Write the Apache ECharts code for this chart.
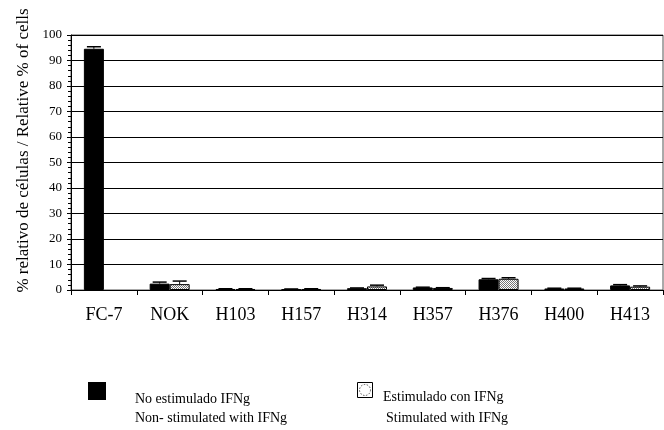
<!DOCTYPE html>
<html><head><meta charset="utf-8">
<script src="https://cdn.jsdelivr.net/npm/echarts@6/dist/echarts.min.js"></script>
<style>html,body{margin:0;padding:0;background:#fff}#c{width:664px;height:430px}</style>
</head><body><div id="c"></div>
<script>
const categories = ['FC-7','NOK','H103','H157','H314','H357','H376','H400','H413'];
const nonStim = [94.6, 2.5, 0.4, 0.3, 0.7, 1.0, 4.2, 0.6, 1.8];
const nonStimErr = [0.8, 0.6, 0.1, 0.1, 0.1, 0.1, 0.3, 0.1, 0.3];
const stim = [null, 2.3, 0.4, 0.4, 1.4, 0.8, 4.4, 0.6, 1.3];
const stimErr = [null, 1.2, 0.1, 0.1, 0.5, 0.1, 0.4, 0.1, 0.3];
const yTicks = [0,10,20,30,40,50,60,70,80,90,100];

const FONT = '"Liberation Serif","DejaVu Serif",serif';
const BARW = 20;

// dotted pattern
const pc = document.createElement('canvas');
pc.width = 4; pc.height = 4;
const pctx = pc.getContext('2d');
pctx.fillStyle = '#fff'; pctx.fillRect(0,0,4,4);
pctx.fillStyle = '#777';
pctx.fillRect(0,0,1,1); pctx.fillRect(2,0,1,1);
pctx.fillRect(1,1,1,1); pctx.fillRect(3,1,1,1);
pctx.fillRect(0,2,1,1); pctx.fillRect(2,2,1,1);
pctx.fillRect(1,3,1,1); pctx.fillRect(3,3,1,1);

function errSeries(vals, errs, offset) {
  return {
    type: 'custom',
    z: 5,
    data: vals.map((v,i)=> v==null ? [i, null, null] : [i, v, errs[i]]),
    renderItem: function(params, api) {
      const v = api.value(1), e = api.value(2);
      if (v == null || isNaN(v)) return;
      const p0 = api.coord([api.value(0), v]);
      const p1 = api.coord([api.value(0), v + e]);
      const x = p0[0] + offset;
      return {
        type: 'group',
        children: [
          {type:'line', shape:{x1:x, y1:p0[1], x2:x, y2:p1[1]}, style:{stroke:'#000', lineWidth:1}},
          {type:'line', shape:{x1:x-7, y1:p1[1], x2:x+7, y2:p1[1]}, style:{stroke:'#000', lineWidth:1.5}}
        ]
      };
    }
  };
}

const chart = echarts.init(document.getElementById('c'));
chart.setOption({
  animation: false,
  backgroundColor: '#fff',
  grid: {left: 71, right: 1, top: 35, bottom: 140, show: true, borderColor: '#555', borderWidth: 1},
  xAxis: {
    type: 'category',
    data: categories,
    axisLine: {lineStyle: {color: '#000', width: 1}},
    axisTick: {show: true, length: 5, alignWithLabel: false, lineStyle: {color: '#000'}},
    axisLabel: {fontFamily: FONT, fontSize: 18, color: '#000', margin: 16}
  },
  yAxis: {
    type: 'value',
    min: 0, max: 100, interval: 10,
    name: '% relativo de células / Relative % of cells',
    nameLocation: 'middle',
    nameGap: 36,
    nameTextStyle: {fontFamily: FONT, fontSize: 17, color: '#000', padding: [0, 0, 0, 24]},
    axisLine: {show: true, lineStyle: {color: '#000', width: 1}},
    axisTick: {show: true, length: 4, lineStyle: {color: '#000'}},
    minorTick: {show: true, splitNumber: 5, length: 3, lineStyle: {color: '#000'}},
    splitLine: {show: true, lineStyle: {color: '#000', width: 1}},
    axisLabel: {fontFamily: FONT, fontSize: 13, color: '#000', margin: 9,
      formatter: v => yTicks.includes(v) ? String(v) : ''}
  },
  series: [
    {type: 'bar', name: 'No estimulado IFNg', data: nonStim, barWidth: BARW, barGap: '0%',
      itemStyle: {color: '#000', borderColor: '#000', borderWidth: 1}},
    {type: 'bar', name: 'Estimulado con IFNg', data: stim, barWidth: BARW, barGap: '0%',
      itemStyle: {color: {image: pc, repeat: 'repeat'}, borderColor: '#000', borderWidth: 1}},
    errSeries(nonStim, nonStimErr, -BARW/2),
    errSeries(stim, stimErr, BARW/2)
  ],
  graphic: [
    {type: 'rect', left: 88, top: 382, shape: {width: 18, height: 18}, style: {fill: '#000'}},
    {type: 'text', x: 135, y: 399, style: {text: 'No estimulado IFNg', font: '14px ' + FONT, fill: '#000', verticalAlign: 'middle'}},
    {type: 'text', x: 135, y: 418, style: {text: 'Non- stimulated with IFNg', font: '14px ' + FONT, fill: '#000', verticalAlign: 'middle'}},
    {type: 'rect', shape: {x: 357.5, y: 382.5, width: 15, height: 15}, style: {fill: '#fff', stroke: '#000', lineWidth: 1}},
    {type: 'circle', shape: {cx: 365, cy: 390, r: 5.5}, style: {fill: '#fff', stroke: '#555', lineWidth: 1, lineDash: [1.5, 1.5]}},
    {type: 'text', x: 383, y: 397, style: {text: 'Estimulado con IFNg', font: '14px ' + FONT, fill: '#000', verticalAlign: 'middle'}},
    {type: 'text', x: 386, y: 418, style: {text: 'Stimulated with IFNg', font: '14px ' + FONT, fill: '#000', verticalAlign: 'middle'}}
  ]
});
</script>
</body></html>
